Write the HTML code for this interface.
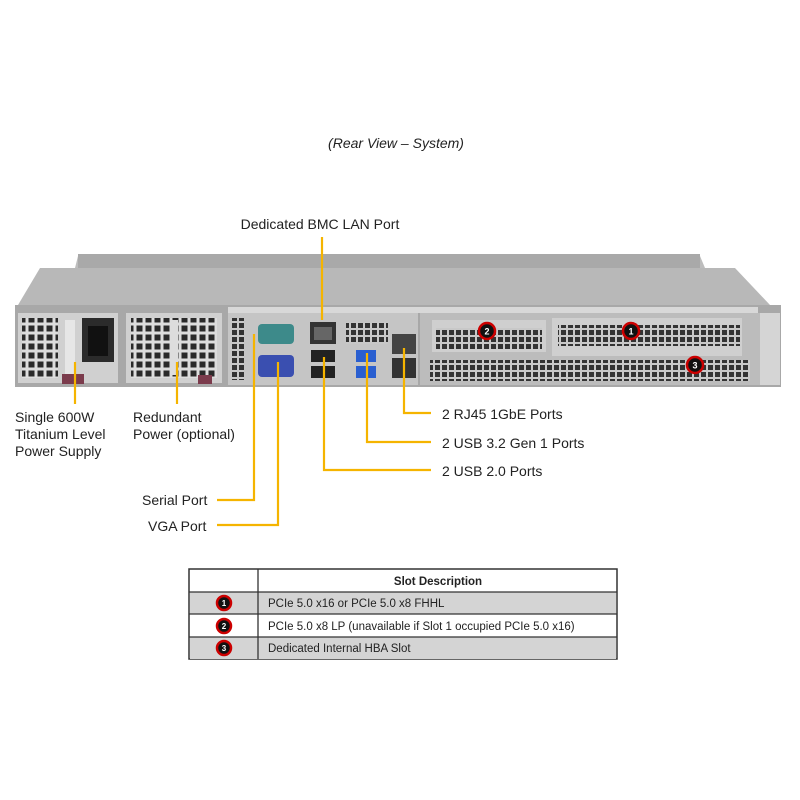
<!DOCTYPE html>
<html><head><style>
body{margin:0;background:#fff}
svg{display:block}
text{font-family:"Liberation Sans",Arial,sans-serif;fill:#222}
</style></head><body>
<svg width="800" height="800" viewBox="0 0 800 800" xmlns="http://www.w3.org/2000/svg">
<defs>
<pattern id="vent" width="9" height="9" patternUnits="userSpaceOnUse"><rect width="9" height="9" fill="#ddd"/><rect x="1.5" y="1.5" width="6" height="6" fill="#2a2a2a"/></pattern>
<pattern id="vent2" width="7" height="7" patternUnits="userSpaceOnUse"><rect width="7" height="7" fill="#c8c8c8"/><rect x="1" y="1" width="5" height="5" fill="#333"/></pattern>
</defs>
<text x="396" y="148" font-size="14" font-style="italic" text-anchor="middle">(Rear View – System)</text>
<text x="320" y="229" font-size="14" text-anchor="middle">Dedicated BMC LAN Port</text>

<!-- chassis lid -->
<polygon points="78,256 700,256 705,268 760,305 20,305 75,268" fill="#bdbdbd"/>
<rect x="78" y="254" width="622" height="14" fill="#a9a9a9"/>
<polygon points="40,268 735,268 770,305 18,305" fill="#b8b8b8"/>
<!-- rear panel -->
<rect x="15" y="305" width="766" height="82" fill="#a8a8a8"/>
<rect x="228" y="307" width="530" height="6" fill="#d8d8d8"/>
<!-- PSU -->
<rect x="18" y="313" width="100" height="70" fill="#d0d0d0"/>
<rect x="22" y="318" width="36" height="60" fill="url(#vent)"/>
<rect x="82" y="318" width="32" height="44" fill="#2b2b2b"/>
<rect x="88" y="326" width="20" height="30" fill="#111"/>
<rect x="65" y="320" width="10" height="55" fill="#e6e6e6"/>
<rect x="62" y="374" width="22" height="10" fill="#7b3b4c"/>
<!-- Redundant -->
<rect x="126" y="313" width="96" height="70" fill="#d0d0d0"/>
<rect x="131" y="318" width="86" height="60" fill="url(#vent)"/>
<rect x="170" y="320" width="8" height="55" fill="#ddd"/>
<rect x="198" y="375" width="14" height="9" fill="#7b3b4c"/>
<!-- IO area -->
<rect x="228" y="313" width="190" height="72" fill="#c5c5c5"/>
<rect x="230" y="318" width="14" height="62" fill="url(#vent2)"/>
<rect x="258" y="324" width="36" height="20" rx="4" fill="#3d8a8a"/>
<rect x="258" y="355" width="36" height="22" rx="4" fill="#3a4fb0"/>
<rect x="310" y="322" width="26" height="22" fill="#333"/>
<rect x="314" y="327" width="18" height="13" fill="#666"/>
<rect x="311" y="350" width="24" height="12" fill="#222"/>
<rect x="311" y="366" width="24" height="12" fill="#222"/>
<rect x="346" y="322" width="42" height="22" fill="url(#vent2)"/>
<rect x="356" y="350" width="20" height="12" fill="#2a5fd0"/>
<rect x="356" y="366" width="20" height="12" fill="#2a5fd0"/>
<rect x="392" y="334" width="24" height="20" fill="#444"/>
<rect x="392" y="358" width="24" height="20" fill="#333"/>
<!-- PCIe -->
<rect x="420" y="313" width="340" height="72" fill="#bcbcbc"/>
<rect x="432" y="320" width="114" height="32" fill="#cfcfcf"/>
<rect x="436" y="328" width="106" height="21" fill="url(#vent2)"/>
<rect x="552" y="318" width="190" height="38" fill="#cfcfcf"/>
<rect x="558" y="325" width="182" height="21" fill="url(#vent2)"/>
<rect x="430" y="360" width="320" height="21" fill="url(#vent2)"/>
<rect x="760" y="313" width="20" height="72" fill="#d5d5d5"/>
<g font-size="9" font-weight="bold" text-anchor="middle">
<circle cx="487" cy="331" r="8" fill="#111" stroke="#c00" stroke-width="2.5"/><text x="487" y="334.5" style="fill:#fff">2</text>
<circle cx="631" cy="331" r="8" fill="#111" stroke="#c00" stroke-width="2.5"/><text x="631" y="334.5" style="fill:#fff">1</text>
<circle cx="695" cy="365" r="8" fill="#111" stroke="#c00" stroke-width="2.5"/><text x="695" y="368.5" style="fill:#fff">3</text>
</g>

<!-- connectors -->
<g stroke="#f5b400" stroke-width="2.2" fill="none">
<line x1="322" y1="237" x2="322" y2="320"/>
<line x1="75" y1="362" x2="75" y2="404"/>
<line x1="177" y1="362" x2="177" y2="404"/>
<polyline points="254,334 254,500 217,500"/>
<polyline points="278,362 278,525 217,525"/>
<polyline points="324,357 324,470 431,470"/>
<polyline points="367,353 367,442 431,442"/>
<polyline points="404,348 404,413 431,413"/>
</g>
<g font-size="14">
<text x="15" y="422">Single 600W</text>
<text x="15" y="439">Titanium Level</text>
<text x="15" y="456">Power Supply</text>
<text x="133" y="422">Redundant</text>
<text x="133" y="439">Power (optional)</text>
<text x="142" y="505">Serial Port</text>
<text x="148" y="531">VGA Port</text>
<text x="442" y="419">2 RJ45 1GbE Ports</text>
<text x="442" y="448">2 USB 3.2 Gen 1 Ports</text>
<text x="442" y="476">2 USB 2.0 Ports</text>
</g>

<!-- table -->
<rect x="189" y="569" width="428" height="90" fill="#fff" stroke="#333" stroke-width="1.5"/>
<rect x="190" y="592" width="426" height="22" fill="#d4d4d4"/>
<rect x="190" y="637" width="426" height="22" fill="#d4d4d4"/>
<g stroke="#333" stroke-width="1.3">
<line x1="189" y1="592" x2="617" y2="592"/>
<line x1="189" y1="614" x2="617" y2="614"/>
<line x1="189" y1="637" x2="617" y2="637"/>
<line x1="258" y1="569" x2="258" y2="659"/>
</g>
<text x="438" y="585" font-size="11.5" font-weight="bold" text-anchor="middle">Slot Description</text>
<g font-size="11.5">
<text x="268" y="607">PCIe 5.0 x16 or PCIe 5.0 x8 FHHL</text>
<text x="268" y="630">PCIe 5.0 x8 LP (unavailable if Slot 1 occupied PCIe 5.0 x16)</text>
<text x="268" y="652">Dedicated Internal HBA Slot</text>
</g>
<g font-size="8" font-weight="bold" text-anchor="middle">
<circle cx="224" cy="603" r="7" fill="#111" stroke="#c00" stroke-width="2.5"/><text x="224" y="606" style="fill:#fff">1</text>
<circle cx="224" cy="626" r="7" fill="#111" stroke="#c00" stroke-width="2.5"/><text x="224" y="629" style="fill:#fff">2</text>
<circle cx="224" cy="648" r="7" fill="#111" stroke="#c00" stroke-width="2.5"/><text x="224" y="651" style="fill:#fff">3</text>
</g>
</svg>
</body></html>
